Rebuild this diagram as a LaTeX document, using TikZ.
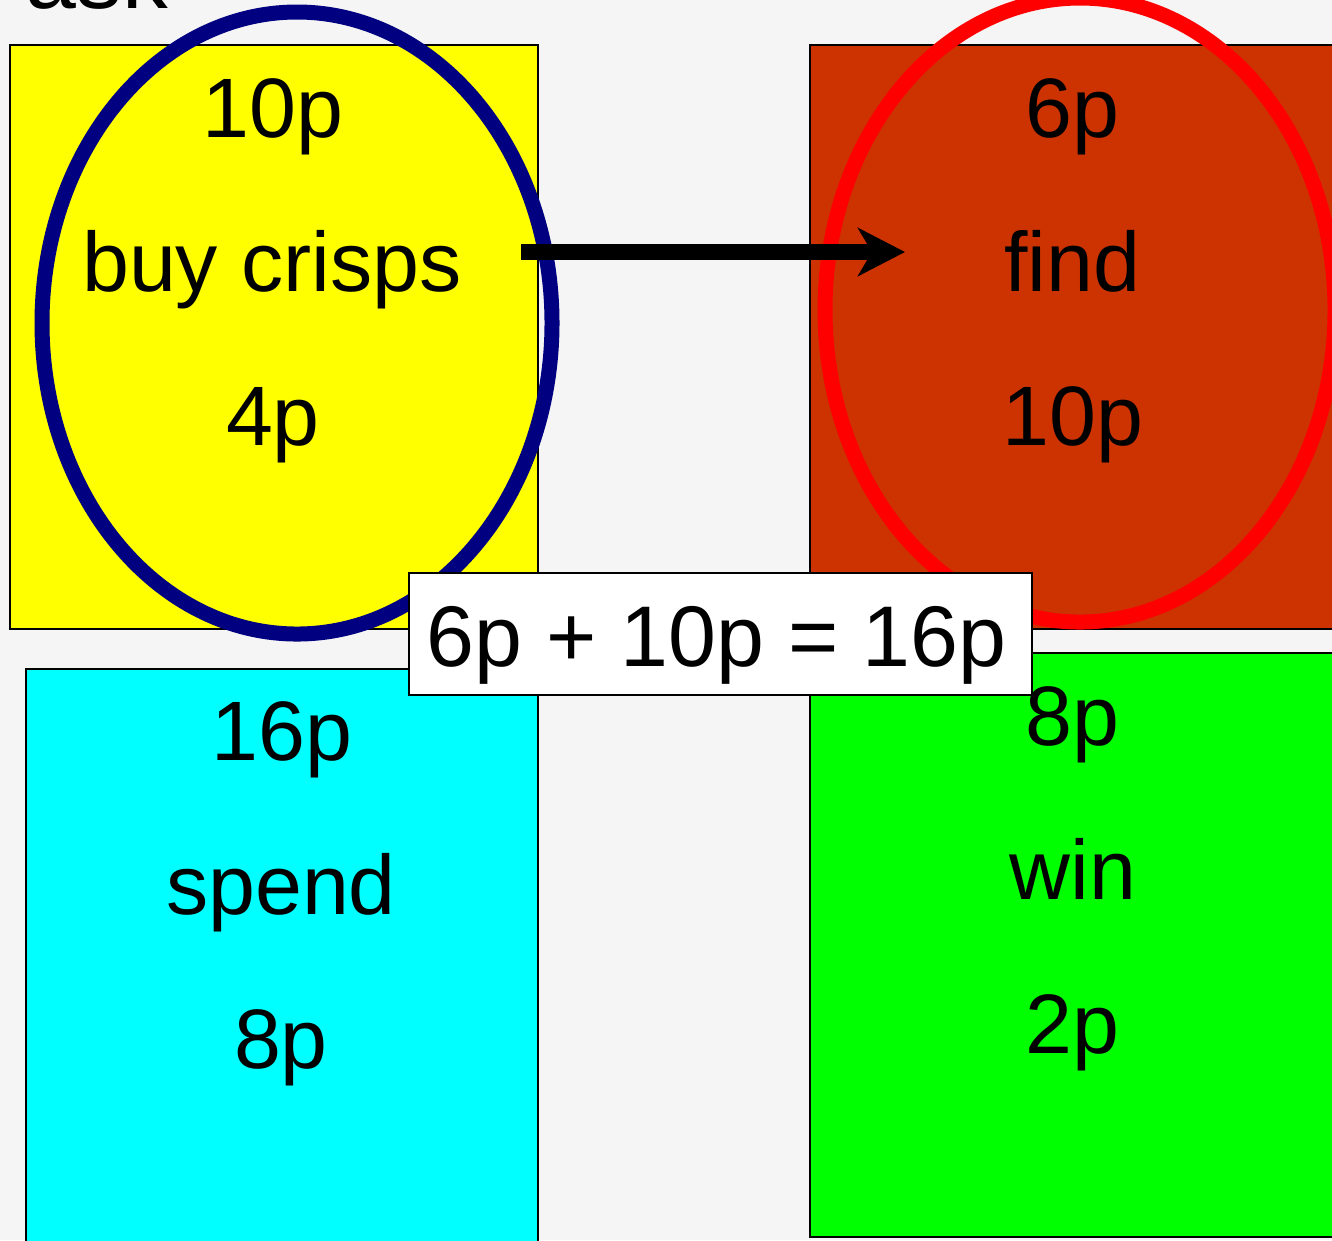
\documentclass[tikz,border=0pt]{standalone}
\usepackage{fontspec}
\setmainfont{Liberation Sans}
\usepackage{xcolor}
\definecolor{pagegrey}{RGB}{245,245,245}
\definecolor{crispyellow}{RGB}{255,255,0}
\definecolor{findbrown}{RGB}{204,51,0}
\definecolor{spendcyan}{RGB}{0,255,255}
\definecolor{wingreen}{RGB}{0,255,0}
\definecolor{ringnavy}{RGB}{0,0,128}
\definecolor{ringred}{RGB}{255,0,0}
\usetikzlibrary{arrows.meta, positioning}

\begin{document}
\begin{tikzpicture}[
  panel/.style={draw=black, line width=0.6pt, anchor=north west, inner sep=0pt},
  ring/.style={line width=0.15cm},
  word/.style={font=\fontsize{24}{28}\selectfont, anchor=base, inner sep=0pt},
  sumbox/.style={draw=black, fill=white, line width=0.6pt, minimum width=6.23cm, minimum height=1.22cm, inner sep=0pt},
  move/.style={line width=0.16cm, -{Stealth[length=0.47cm, width=0.48cm, inset=0.14cm]}}
]
  \useasboundingbox (0,0) rectangle (13.32,-12.40);
  \fill[pagegrey] (0,0) rectangle (13.32,-12.40);

  % cut-off title
  \node[font=\fontsize{26}{30}\selectfont, anchor=base west, inner sep=0pt] (title) at (0.25,-0.08) {ask};

  % the four panels
  \node[panel, fill=crispyellow, minimum width=5.28cm, minimum height=5.84cm] (crispsbox) at (0.09,-0.44) {};
  \node[panel, fill=findbrown, minimum width=5.60cm, minimum height=5.84cm] (findbox) at (8.09,-0.44) {};
  \node[panel, fill=spendcyan, minimum width=5.12cm, minimum height=5.90cm] (spendbox) at (0.25,-6.68) {};
  \node[panel, fill=wingreen, minimum width=5.60cm, minimum height=5.84cm] (winbox) at (8.09,-6.52) {};

  % rings
  \draw[ring, ringnavy] (2.97,-3.23) ellipse [x radius=2.55cm, y radius=3.11cm];
  \draw[ring, ringred] (10.80,-3.10) ellipse [x radius=2.55cm, y radius=3.12cm];

  % texts
  \node[word] (crispsTop) at (2.73,-1.37) {10p};
  \node[word] (crisps) at (2.72,-2.91) {buy crisps};
  \node[word] (crispsBot) at (2.73,-4.45) {4p};

  \node[word] (findTop) at (10.72,-1.37) {6p};
  \node[word] (find) at (10.72,-2.91) {find};
  \node[word] (findBot) at (10.73,-4.45) {10p};

  \node[word] (spendTop) at (2.82,-7.60) {16p};
  \node[word] (spend) at (2.81,-9.14) {spend};
  \node[word] (spendBot) at (2.81,-10.68) {8p};

  \node[word] (winTop) at (10.72,-7.45) {8p};
  \node[word] (win) at (10.73,-8.99) {win};
  \node[word] (winBot) at (10.72,-10.53) {2p};

  % arrow
  \coordinate (arrowstart) at (5.21,-2.52);
  \coordinate (arrowend) at (9.05,-2.52);
  \draw[move] (arrowstart) -- (arrowend);

  % sum
  \node[sumbox] (sum) at (7.205,-6.34) {};
  \node[word, font=\fontsize{24.5}{28}\selectfont] (sumtext) at (7.165,-6.66) {6p + 10p = 16p};
\end{tikzpicture}
\end{document}
